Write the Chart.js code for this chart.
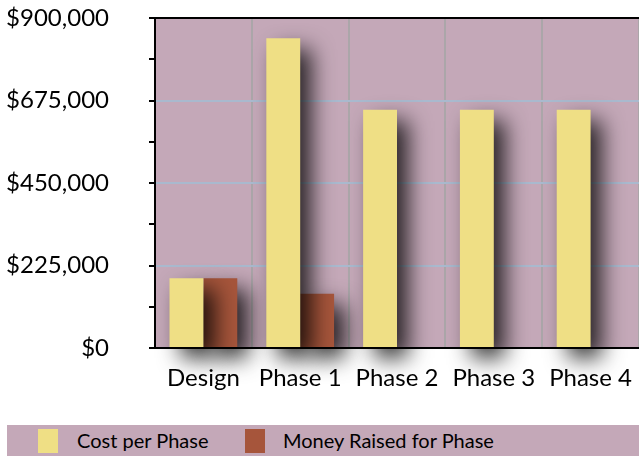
<!DOCTYPE html>
<html>
<head>
<meta charset="utf-8">
<script src="https://cdn.jsdelivr.net/npm/chart.js@4"></script>
<style>
  body { margin: 0; background: #fff; font-family: Lato, "Open Sans", sans-serif; }
  #wrap { position: relative; width: 639px; height: 456px; }
  #chartBox { position: absolute; left: 0; top: 0; width: 639px; height: 405px; }
  #legend { position: absolute; left: 7px; top: 425px; width: 632px; height: 31px; background: #c4a8b8; }
  .item { position: absolute; top: 0; height: 31px; line-height: 31px; font-size: 20px; color: #000; }
  .box { position: absolute; top: 4px; width: 20px; height: 24px; }
</style>
</head>
<body>
<div id="wrap">
  <div id="chartBox"><canvas id="costChart"></canvas></div>
  <div id="legend">
    <span class="box" style="left:31px;background:#efdf85"></span>
    <span class="item" style="left:70px">Cost per Phase</span>
    <span class="box" style="left:238px;background:#a6553b"></span>
    <span class="item" style="left:276px">Money Raised for Phase</span>
  </div>
</div>
<script>
var phases = ['Design', 'Phase 1', 'Phase 2', 'Phase 3', 'Phase 4'];
var costPerPhase = [190000, 845000, 650000, 650000, 650000];
var moneyRaised = [190000, 148000, 0, 0, 0];
var yTicks = [0, 225000, 450000, 675000, 900000];

// plot background + drop shadows on bars
var plotBg = {
  id: 'plotBg',
  beforeDraw: function(chart) {
    var a = chart.chartArea, ctx = chart.ctx;
    ctx.save();
    ctx.fillStyle = '#c4a8b8';
    ctx.fillRect(a.left, a.top, a.right - a.left, a.bottom - a.top);
    ctx.restore();
  },
  beforeDatasetDraw: function(chart) {
    var ctx = chart.ctx;
    ctx.save();
    ctx.shadowColor = 'rgba(0,0,0,0.8)';
    ctx.shadowBlur = 22;
    ctx.shadowOffsetX = 11;
    ctx.shadowOffsetY = 11;
  },
  afterDatasetDraw: function(chart) {
    chart.ctx.restore();
  }
};

var ctx = document.getElementById('costChart').getContext('2d');
var costChart = new Chart(ctx, {
  type: 'bar',
  data: {
    labels: phases,
    datasets: [
      {
        label: 'Cost per Phase',
        backgroundColor: '#efdf85',
        data: costPerPhase,
        order: 0,
        clip: false
      },
      {
        label: 'Money Raised for Phase',
        backgroundColor: '#a6553b',
        data: moneyRaised,
        order: 1,
        clip: false
      }
    ]
  },
  options: {
    responsive: true,
    maintainAspectRatio: false,
    animation: false,
    layout: { padding: { top: 18, right: 0, left: 0, bottom: 0 } },
    plugins: { legend: { display: false }, tooltip: { enabled: false } },
    datasets: { bar: { categoryPercentage: 0.7, barPercentage: 1.0 } },
    scales: {
      x: {
        afterFit: function(s) {
          s.height = 57;
          s.paddingLeft = 0; s.paddingRight = 0;
        },
        grid: {
          offset: true,
          drawTicks: false,
          color: 'rgba(165,165,165,0.8)',
          lineWidth: 2
        },
        border: { color: '#000', width: 2 },
        ticks: { color: '#000', padding: 16, font: { family: 'Lato', size: 24 } }
      },
      y: {
        min: 0,
        max: 900000,
        afterFit: function(s) {
          s.width = 155;
          s.paddingTop = 0; s.paddingBottom = 0;
        },
        afterBuildTicks: function(s) {
          var t = [];
          for (var v = 0; v <= 900000; v += 112500) t.push({ value: v });
          s.ticks = t;
        },
        grid: {
          lineWidth: 2,
          tickLength: 6,
          tickColor: '#000',
          color: function(c) {
            var v = c.tick ? c.tick.value : 0;
            if (v === 900000) return '#000';
            if (yTicks.indexOf(v) < 0 || v === 0) return 'rgba(0,0,0,0)';
            return '#a9b9ce';
          }
        },
        border: { color: '#000', width: 2 },
        ticks: {
          color: '#000',
          padding: 40,
          font: { family: 'Lato', size: 24 },
          callback: function(v) {
            if (yTicks.indexOf(v) < 0) return '';
            return '$' + v.toLocaleString('en-US');
          }
        }
      }
    }
  },
  plugins: [plotBg]
});
</script>
</body>
</html>
